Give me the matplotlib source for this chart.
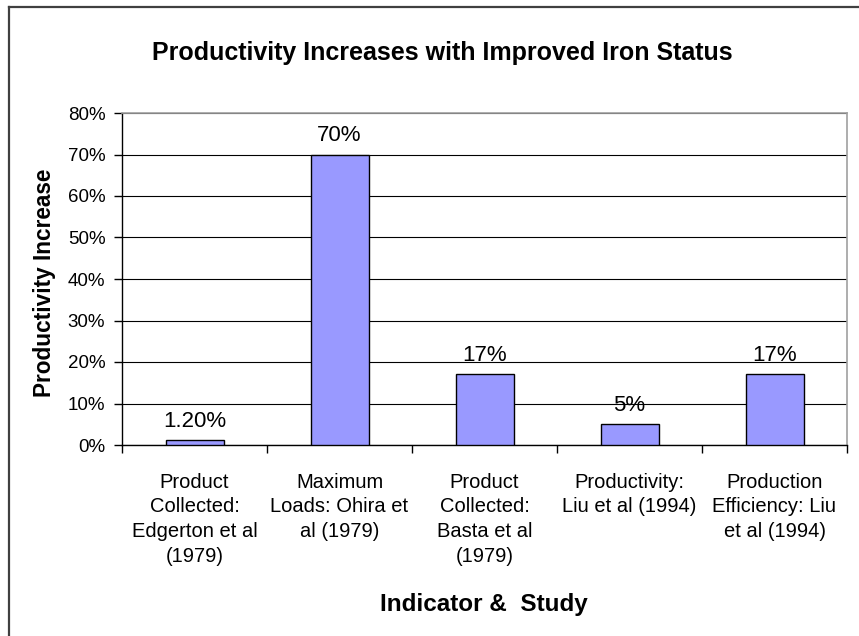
import matplotlib
matplotlib.use("Agg")
import matplotlib.pyplot as plt
from matplotlib.lines import Line2D
from matplotlib.ticker import MultipleLocator, FuncFormatter

plt.rcParams['font.family'] = ['Liberation Sans', 'DejaVu Sans']

# data
categories = ["Product\nCollected:\nEdgerton et al\n(1979)",
              "Maximum\nLoads: Ohira et\nal (1979)",
              "Product\nCollected:\nBasta et al\n(1979)",
              "Productivity:\nLiu et al (1994)",
              "Production\nEfficiency: Liu\net al (1994)"]
values = [1.2, 70, 17, 5, 17]
value_labels = ["1.20%", "70%", "17%", "5%", "17%"]

fig = plt.figure(figsize=(8.59, 6.36), dpi=100)
ax = fig.add_axes([122/859, 1-445/636, (847-122)/859, (445-113)/636])

x = range(len(values))
ax.bar(x, values, width=0.4, color="#9999FF", edgecolor="black", linewidth=1, zorder=3)
for xi, v, lab in zip(x, values, value_labels):
    ax.annotate(lab, (xi, v), xytext=(0, 6), textcoords="offset points",
                ha="center", va="bottom", fontsize=16)

ax.set_xlim(-0.5, len(values) - 0.5)
ax.set_ylim(0, 80)
ax.yaxis.set_major_locator(MultipleLocator(10))
ax.yaxis.set_major_formatter(FuncFormatter(lambda v, p: f"{v:.0f}%"))
ax.grid(axis="y", color="black", linewidth=0.8, zorder=0)

ax.set_xticks(x)
ax.set_xticklabels(categories, fontsize=14.5, linespacing=1.38, va="top")
ax.set_xticks([i - 0.5 for i in range(len(values) + 1)], minor=True)
ax.tick_params(axis="x", which="major", length=0, pad=20)
ax.tick_params(axis="x", which="minor", length=6, width=1, direction="out")
ax.tick_params(axis="y", length=6, width=1, direction="out", pad=6, labelsize=13.5)

for s in ["top", "right"]:
    ax.spines[s].set_color("#a0a0a0")
    ax.spines[s].set_linewidth(1.2)
for s in ["left", "bottom"]:
    ax.spines[s].set_color("black")
    ax.spines[s].set_linewidth(1)

fig.text(442/859, 1-53/636, "Productivity Increases with Improved Iron Status",
         ha="center", va="center", fontsize=18, fontweight="bold")
fig.text(45/859, 1-283/636, "Productivity Increase", rotation=90,
         ha="center", va="center", fontsize=16.3, fontweight="bold")
fig.text(484/859, 1-605/636, "Indicator &  Study",
         ha="center", va="center", fontsize=17.5, fontweight="bold")

# outer chart frame (top and left edges visible)
fig.add_artist(Line2D([9/859, 9/859], [0, 1-7/636], color="#404040", linewidth=1.6, transform=fig.transFigure))
fig.add_artist(Line2D([9/859, 1], [1-7/636, 1-7/636], color="#404040", linewidth=1.6, transform=fig.transFigure))

fig.savefig("out.png", dpi=100)
